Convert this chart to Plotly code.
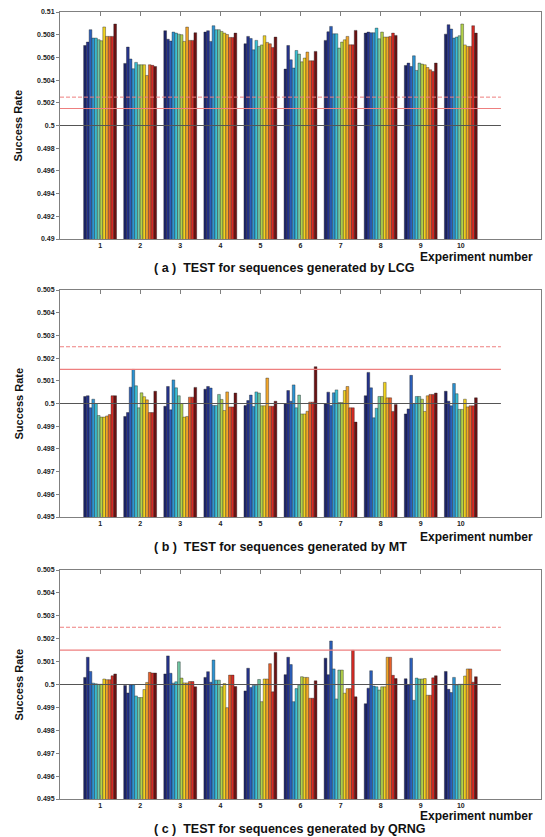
import plotly.graph_objects as go

# ---------------- data ----------------
experiments = [1, 2, 3, 4, 5, 6, 7, 8, 9, 10]

series_colors = ["#1c2469", "#25338c", "#2b5fbb", "#2c93d3", "#3cc0d4", "#6fc6a4",
                 "#b3d14a", "#f1d31f", "#f2a62a", "#e8602a", "#d62a24", "#6b1112"]

# values per experiment (12 sequences each)
lcg_values = [
    [0.50705, 0.50735, 0.50844, 0.5077, 0.5077, 0.50756, 0.50747, 0.50868, 0.50785, 0.50785, 0.50785, 0.50894],
    [0.50547, 0.50691, 0.50586, 0.5050, 0.50556, 0.50535, 0.50535, 0.50535, 0.50441, 0.50535, 0.5053, 0.5052],
    [0.50835, 0.5076, 0.50744, 0.50823, 0.50814, 0.50805, 0.508, 0.50741, 0.50867, 0.5075, 0.5075, 0.50817],
    [0.50823, 0.50835, 0.50741, 0.50879, 0.50844, 0.50844, 0.50829, 0.50814, 0.50802, 0.50776, 0.50776, 0.50814],
    [0.5072, 0.50785, 0.50767, 0.50667, 0.5075, 0.50697, 0.5071, 0.50791, 0.50732, 0.5072, 0.50688, 0.50779],
    [0.50497, 0.50705, 0.50579, 0.50506, 0.50661, 0.50629, 0.50561, 0.50594, 0.50647, 0.5057, 0.5057, 0.50653],
    [0.5075, 0.50826, 0.50873, 0.50808, 0.50808, 0.50682, 0.50735, 0.50755, 0.50785, 0.50711, 0.50711, 0.50838],
    [0.50814, 0.50823, 0.50817, 0.50817, 0.50858, 0.50764, 0.50823, 0.50779, 0.50779, 0.50785, 0.50814, 0.50794],
    [0.50529, 0.5055, 0.5052, 0.50614, 0.50485, 0.5055, 0.50541, 0.50535, 0.50511, 0.50491, 0.50476, 0.5055],
    [0.50805, 0.50888, 0.5085, 0.5077, 0.50779, 0.50791, 0.50894, 0.5071, 0.50697, 0.50697, 0.50879, 0.50814],
]

mt_values = [
    [0.50031, 0.50034, 0.49981, 0.50019, 0.50000, 0.49947, 0.4994, 0.4994, 0.49945, 0.49951, 0.50034, 0.50034],
    [0.49943, 0.4996, 0.50072, 0.5015, 0.50078, 0.49981, 0.50047, 0.5003, 0.50016, 0.4996, 0.4996, 0.50054],
    [0.49988, 0.50075, 0.49972, 0.50104, 0.50069, 0.50034, 0.5, 0.4994, 0.49943, 0.50028, 0.50028, 0.50071],
    [0.50063, 0.50075, 0.50068, 0.49991, 0.49991, 0.5004, 0.50018, 0.49969, 0.50051, 0.49985, 0.49985, 0.50046],
    [0.49991, 0.50013, 0.50037, 0.49987, 0.50051, 0.50046, 0.4999, 0.4999, 0.50112, 0.49988, 0.49988, 0.5001],
    [0.5, 0.50057, 0.5001, 0.50082, 0.49981, 0.50037, 0.49954, 0.49954, 0.49966, 0.50006, 0.50006, 0.50162],
    [0.49999, 0.5005, 0.49991, 0.50047, 0.5006, 0.50004, 0.50004, 0.50057, 0.50075, 0.49981, 0.49981, 0.49918],
    [0.50034, 0.50137, 0.50069, 0.49937, 0.49979, 0.50031, 0.50031, 0.50093, 0.50025, 0.50025, 0.49965, 0.49996],
    [0.49954, 0.49976, 0.50124, 0.5, 0.50031, 0.50031, 0.50019, 0.49965, 0.50034, 0.5004, 0.5004, 0.50046],
    [0.50054, 0.5001, 0.4999, 0.50088, 0.50043, 0.49974, 0.49974, 0.50019, 0.49985, 0.4999, 0.4999, 0.50025],
]

qrng_values = [
    [0.50031, 0.50119, 0.50057, 0.50006, 0.50003, 0.50001, 0.50001, 0.50024, 0.50021, 0.50021, 0.50038, 0.50046],
    [0.49996, 0.49963, 0.49999, 0.49999, 0.4995, 0.49943, 0.49943, 0.49978, 0.50009, 0.50053, 0.5005, 0.5005],
    [0.50046, 0.50125, 0.50049, 0.50006, 0.50012, 0.50099, 0.50028, 0.50007, 0.50007, 0.50013, 0.50013, 0.4999],
    [0.50031, 0.50056, 0.5001, 0.50107, 0.50019, 0.50019, 0.4999, 0.50004, 0.49899, 0.50041, 0.50041, 0.49991],
    [0.49972, 0.50071, 0.49987, 0.49996, 0.49996, 0.50022, 0.49925, 0.50024, 0.50024, 0.50091, 0.49968, 0.5014],
    [0.50043, 0.50119, 0.50087, 0.49925, 0.49982, 0.49997, 0.50034, 0.50031, 0.50031, 0.4994, 0.4994, 0.50016],
    [0.50115, 0.50043, 0.5019, 0.50068, 0.49937, 0.50063, 0.50063, 0.49962, 0.49982, 0.49982, 0.50149, 0.49946],
    [0.49916, 0.49984, 0.5006, 0.49993, 0.4999, 0.49976, 0.4999, 0.4999, 0.50119, 0.50119, 0.5004, 0.50026],
    [0.50025, 0.49999, 0.50115, 0.49931, 0.50028, 0.50024, 0.50024, 0.50026, 0.49953, 0.49953, 0.50029, 0.50038],
    [0.50057, 0.49979, 0.49965, 0.50031, 0.49997, 0.50001, 0.50001, 0.50037, 0.50068, 0.50068, 0.5001, 0.50034],
]

ideal_rate = 0.5
threshold_solid = 0.5015
threshold_dashed = 0.5025
line_x_span = [0, 11]

lcg_ticks = [0.49, 0.492, 0.494, 0.496, 0.498, 0.5, 0.502, 0.504, 0.506, 0.508, 0.51]
lcg_ticktext = ["0.49", "0.492", "0.494", "0.496", "0.498", "0.5", "0.502", "0.504", "0.506", "0.508", "0.51"]
small_ticks = [0.495, 0.496, 0.497, 0.498, 0.499, 0.5, 0.501, 0.502, 0.503, 0.504, 0.505]
small_ticktext = ["0.495", "0.496", "0.497", "0.498", "0.499", "0.5", "0.501", "0.502", "0.503", "0.504", "0.505"]

captions = ["( a )  TEST for sequences generated by LCG",
            "( b )  TEST for sequences generated by MT",
            "( c )  TEST for sequences generated by QRNG"]
x_title = "Experiment number"
y_title = "Success Rate"

# ---------------- figure ----------------
W, H = 545, 837
ml, mr, mt_, mb = 60, 4, 12, 38
ph = H - mt_ - mb
pw = W - ml - mr

def py(px):  # pixel y -> paper y
    return (H - mb - px) / ph

def pxx(px):
    return (px - ml) / pw

panels = [
    dict(data=lcg_values, rng=[0.49, 0.51], tv=lcg_ticks, tt=lcg_ticktext, top=12, bot=239),
    dict(data=mt_values, rng=[0.495, 0.505], tv=small_ticks, tt=small_ticktext, top=290, bot=517),
    dict(data=qrng_values, rng=[0.495, 0.505], tv=small_ticks, tt=small_ticktext, top=570, bot=799),
]

fig = go.Figure()
font_fam = "Liberation Sans, Arial, sans-serif"
axcol = "#808080"

for p_i, p in enumerate(panels):
    sfx = "" if p_i == 0 else str(p_i + 1)
    xa, ya = "x" + sfx, "y" + sfx
    for s in range(12):
        fig.add_trace(go.Bar(
            x=experiments, y=[grp[s] for grp in p["data"]],
            xaxis=xa, yaxis=ya,
            marker=dict(color=series_colors[s], line=dict(color="#202020", width=0.4)),
            showlegend=False,
        ))
    fig.add_trace(go.Scatter(x=line_x_span, y=[threshold_dashed] * 2, mode="lines", xaxis=xa, yaxis=ya,
                             line=dict(color="#ee7f7f", width=1, dash="4px,2px"), showlegend=False))
    fig.add_trace(go.Scatter(x=line_x_span, y=[threshold_solid] * 2, mode="lines", xaxis=xa, yaxis=ya,
                             line=dict(color="#ee7f7f", width=1.2), showlegend=False))
    fig.add_trace(go.Scatter(x=line_x_span, y=[ideal_rate] * 2, mode="lines", xaxis=xa, yaxis=ya,
                             line=dict(color="#555555", width=1), showlegend=False))

    dom = [py(p["bot"]), py(p["top"])]
    fig.layout["xaxis" + sfx] = dict(
        domain=[0, 1], anchor=ya, range=[0, 12], tickvals=experiments,
        ticks="inside", ticklen=4, tickcolor=axcol, mirror="ticks", showline=True,
        linecolor=axcol, linewidth=1, showgrid=False, zeroline=False,
        tickfont=dict(family=font_fam, size=7, color="#222", weight="bold"),
    )
    fig.layout["yaxis" + sfx] = dict(
        domain=dom, anchor=xa, range=p["rng"], tickvals=p["tv"], ticktext=p["tt"],
        ticks="outside", ticklen=3, tickcolor=axcol, showline=True, mirror=True,
        linecolor=axcol, linewidth=1, showgrid=False, zeroline=False,
        tickfont=dict(family=font_fam, size=7, color="#222", weight="bold"),
    )
    fig.layout["yaxis" + str(p_i + 4)] = dict(
        overlaying=ya, anchor=xa, side="right", range=p["rng"], tickvals=p["tv"],
        ticks="inside", ticklen=4, tickcolor=axcol, showticklabels=False,
        showline=False, showgrid=False, zeroline=False,
    )

annotations = []
cap_y = [268, 547, 829]
xt_y = [257, 537, 816]
for i in range(3):
    annotations.append(dict(text=captions[i], xref="paper", yref="paper", x=pxx(152), y=py(cap_y[i]),
                            xanchor="left", yanchor="middle", showarrow=False,
                            font=dict(family=font_fam, size=12.5, color="#111", weight="bold")))
    annotations.append(dict(text=x_title, xref="paper", yref="paper", x=pxx(535), y=py(xt_y[i]),
                            xanchor="right", yanchor="middle", showarrow=False,
                            font=dict(family=font_fam, size=12, color="#111", weight="bold")))
    mid = (panels[i]["top"] + panels[i]["bot"]) / 2
    annotations.append(dict(text=y_title, xref="paper", yref="paper", x=pxx(18), y=py(mid),
                            xanchor="center", yanchor="middle", showarrow=False, textangle=-90,
                            font=dict(family=font_fam, size=11, color="#111", weight="bold")))

fig.update_layout(
    width=W, height=H, margin=dict(l=ml, r=mr, t=mt_, b=mb),
    paper_bgcolor="white", plot_bgcolor="white",
    barmode="group", bargap=0.18, bargroupgap=0,
    annotations=annotations, showlegend=False,
)

fig.write_html("out.html", config={"displayModeBar": False},
               post_script="document.body.style.margin='0';document.body.style.overflow='hidden';")
